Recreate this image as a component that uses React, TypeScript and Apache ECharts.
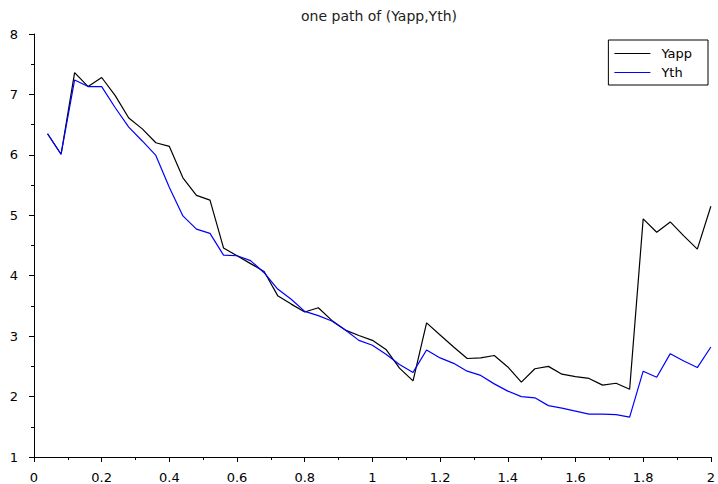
import React, { useEffect, useRef } from "react";
import * as echarts from "echarts";

const xValues = [0.04,0.08,0.12,0.16,0.2,0.24,0.28,0.32,0.36,0.4,0.44,0.48,0.52,0.56,0.6,0.64,0.68,0.72,0.76,0.8,0.84,0.88,0.92,0.96,1.0,1.04,1.08,1.12,1.16,1.2,1.24,1.28,1.32,1.36,1.4,1.44,1.48,1.52,1.56,1.6,1.64,1.68,1.72,1.76,1.8,1.84,1.88,1.92,1.96,2.0];

const yapp = [6.35,6.01,7.36,7.13,7.28,6.98,6.61,6.43,6.20,6.14,5.62,5.33,5.25,4.46,4.33,4.20,4.07,3.67,3.53,3.40,3.47,3.26,3.10,3.01,2.93,2.78,2.47,2.26,3.22,3.02,2.82,2.63,2.64,2.68,2.49,2.24,2.46,2.50,2.37,2.33,2.30,2.19,2.22,2.12,4.94,4.72,4.89,4.66,4.44,5.15];

const yth = [6.35,6.01,7.24,7.13,7.13,6.78,6.46,6.23,5.99,5.46,4.99,4.77,4.70,4.34,4.33,4.25,4.05,3.78,3.61,3.41,3.34,3.25,3.10,2.93,2.85,2.70,2.53,2.40,2.77,2.64,2.55,2.42,2.35,2.21,2.09,2.00,1.98,1.85,1.81,1.76,1.71,1.71,1.70,1.66,2.42,2.32,2.71,2.59,2.48,2.82];

const seriesNames = ["Yapp", "Yth"];
const title = "one path of (Yapp,Yth)";

export default function App() {
  const ref = useRef<HTMLDivElement>(null);
  useEffect(() => {
    if (!ref.current) return;
    const chart = echarts.init(ref.current, null, { renderer: "svg" });
    const font = "DejaVu Sans";
    chart.setOption({
      animation: false,
      backgroundColor: "#ffffff",
      title: {
        text: title,
        left: 374,
        textAlign: "center",
        top: 4,
        textStyle: { fontFamily: font, fontSize: 14, fontWeight: "normal", color: "#222" },
      },
      legend: {
        orient: "vertical",
        right: 10,
        top: 40,
        padding: [7, 16, 6, 6],
        itemGap: 6,
        itemWidth: 36,
        itemHeight: 10,
        borderColor: "#000",
        borderWidth: 1,
        borderRadius: 0,
        icon: "path://M0,5 L36,5 L36,6 L0,6 Z",
        textStyle: { fontFamily: font, fontSize: 13, color: "#000", padding: [0, 0, 0, 6] },
        data: seriesNames,
      },
      grid: { left: 34, right: 4, top: 34, bottom: 25, containLabel: false },
      xAxis: {
        type: "value",
        min: 0,
        max: 2,
        interval: 0.2,
        axisLine: { onZero: false, lineStyle: { color: "#000", width: 1 } },
        axisTick: { length: 5, lineStyle: { color: "#000" } },
        minorTick: { show: true, splitNumber: 2, length: 3, lineStyle: { color: "#000" } },
        splitLine: { show: false },
        axisLabel: {
          fontFamily: font,
          fontSize: 13,
          color: "#000",
          margin: 14,
          formatter: (v: number) => String(Math.round(v * 10) / 10),
        },
      },
      yAxis: {
        type: "value",
        min: 1,
        max: 8,
        interval: 1,
        axisLine: { show: true, onZero: false, lineStyle: { color: "#000", width: 1 } },
        axisTick: { show: true, length: 5, lineStyle: { color: "#000" } },
        minorTick: { show: true, splitNumber: 2, length: 3, lineStyle: { color: "#000" } },
        splitLine: { show: false },
        axisLabel: { fontFamily: font, fontSize: 13, color: "#000", margin: 16 },
      },
      series: [
        {
          name: seriesNames[0],
          type: "line",
          data: xValues.map((x, i) => [x, yapp[i]]),
          showSymbol: false,
          symbol: "none",
          lineStyle: { color: "#000000", width: 1.2 },
          itemStyle: { color: "#000000" },
        },
        {
          name: seriesNames[1],
          type: "line",
          data: xValues.map((x, i) => [x, yth[i]]),
          showSymbol: false,
          symbol: "none",
          lineStyle: { color: "#0000ff", width: 1.2 },
          itemStyle: { color: "#0000ff" },
        },
      ],
    });
    return () => chart.dispose();
  }, []);
  return <div ref={ref} style={{ width: 718, height: 484, position: "absolute", left: 0, top: 0 }} />;
}
